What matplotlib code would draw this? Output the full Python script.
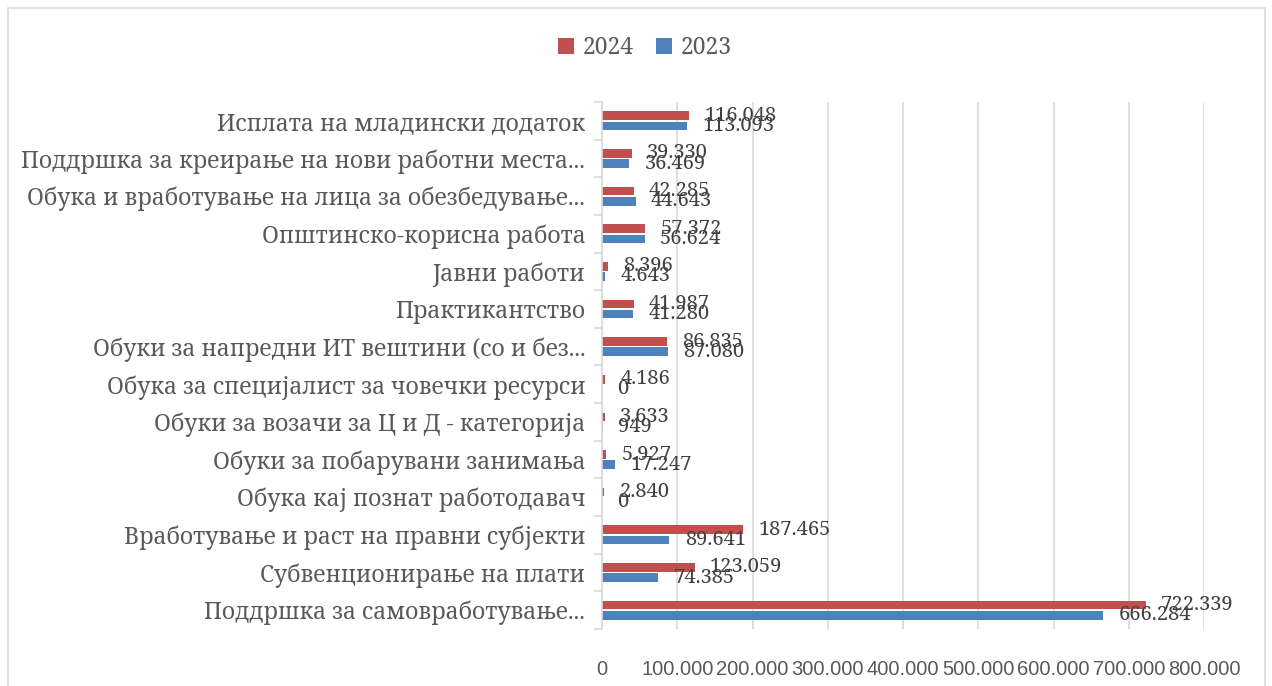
import matplotlib
matplotlib.use("Agg")
import matplotlib.pyplot as plt
from matplotlib.patches import Rectangle
from matplotlib.ticker import FuncFormatter
import numpy as np

categories = [
    "Исплата на младински додаток",
    "Поддршка за креирање на нови работни места...",
    "Обука и вработување на лица за обезбедување...",
    "Општинско-корисна работа",
    "Јавни работи",
    "Практикантство",
    "Обуки за напредни ИТ вештини (со и без...",
    "Обука за специјалист за човечки ресурси",
    "Обуки за возачи за Ц и Д - категорија",
    "Обуки за побарувани занимања",
    "Обука кај познат работодавач",
    "Вработување и раст на правни субјекти",
    "Субвенционирање на плати",
    "Поддршка за самовработување...",
]
values_2024 = [116048, 39330, 42285, 57372, 8396, 41987, 86835, 4186, 3633, 5927, 2840, 187465, 123059, 722339]
values_2023 = [113093, 36469, 44643, 56624, 4643, 41280, 87080, 0, 949, 17247, 0, 89641, 74385, 666284]
x_ticks = [0, 100000, 200000, 300000, 400000, 500000, 600000, 700000, 800000]

RED = "#C0504D"
BLUE = "#4F81BD"
TXT = "#595959"
GRID = "#D9D9D9"
SERIF = ["Noto Serif", "DejaVu Serif"]
SANS = ["Liberation Sans", "DejaVu Sans"]

def fmt(v):
    return f"{int(v):,}".replace(",", ".")

W, H = 1272, 686
fig = plt.figure(figsize=(W / 100, H / 100), dpi=100)
fig.patch.set_facecolor("white")
fig.add_artist(Rectangle((8 / W, -0.02), (1265 - 8) / W, 1 - 8 / H + 0.02,
                         transform=fig.transFigure, fill=False, edgecolor=GRID, lw=1.2))

ax = fig.add_axes([602 / W, 1 - 629 / H, (1204 - 602) / W, (629 - 102) / H])
n = len(categories)
y = np.arange(n)
h = 0.23
off = 0.135
b24 = ax.barh(y - off, values_2024, height=h, color=RED, label="2024", zorder=3)
b23 = ax.barh(y + off, values_2023, height=h, color=BLUE, label="2023", zorder=3)

ax.set_xlim(0, 800000)
ax.set_ylim(n - 0.5, -0.5)
ax.set_xticks(x_ticks)
ax.xaxis.set_major_formatter(FuncFormatter(lambda v, p: fmt(v)))
ax.set_yticks(y)
ax.set_yticklabels(categories, fontfamily=SERIF, fontsize=16.5, color=TXT)
ax.set_yticks(np.arange(n + 1) - 0.5, minor=True)
ax.tick_params(axis="y", which="major", length=0, pad=12)
ax.tick_params(axis="y", which="minor", length=6, color=GRID, width=1.2)
ax.tick_params(axis="x", length=0, pad=22, labelsize=14.5, labelcolor=TXT)
for lab in ax.get_xticklabels():
    lab.set_fontfamily(SANS)
ax.grid(axis="x", color=GRID, lw=1.2, zorder=0)
for s in ["top", "right", "bottom"]:
    ax.spines[s].set_visible(False)
ax.spines["left"].set_color(GRID)
ax.spines["left"].set_linewidth(1.2)
ax.spines["left"].set_zorder(4)

for bars, vals in [(b24, values_2024), (b23, values_2023)]:
    for rect, v in zip(bars, vals):
        ax.annotate(fmt(v), xy=(v, rect.get_y() + rect.get_height() / 2),
                    xytext=(11, 0), textcoords="offset points",
                    ha="left", va="center", fontsize=14.5, color="#404040",
                    fontfamily=SERIF, zorder=5)

leg = fig.legend(handles=[b24, b23], labels=["2024", "2023"], loc="center",
                 bbox_to_anchor=(645 / W, 1 - 48 / H), ncol=2, frameon=False,
                 prop={"family": SERIF, "size": 16.5}, handlelength=0.7, handleheight=0.7,
                 handletextpad=0.35, columnspacing=1.0)
for t in leg.get_texts():
    t.set_color(TXT)

fig.savefig("out.png", dpi=100)
